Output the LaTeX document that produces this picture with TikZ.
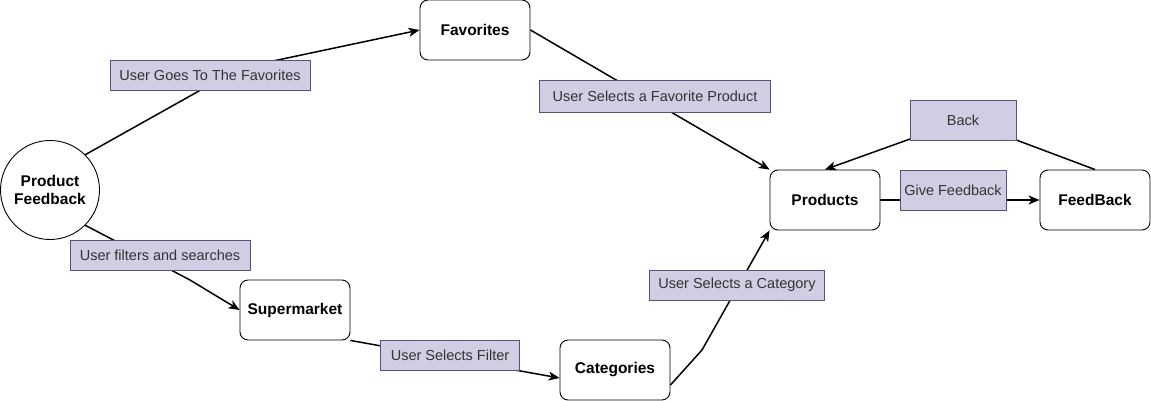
\documentclass[tikz,border=0pt]{standalone}
\usepackage{fontspec}
\setmainfont{Liberation Sans}
\usetikzlibrary{arrows.meta}
\definecolor{lblfill}{HTML}{D0CEE2}
\definecolor{lblline}{HTML}{56517E}
\definecolor{lbltext}{HTML}{333333}
\begin{document}
\begin{tikzpicture}[x=1pt,y=-1pt,
	box/.style={draw,rounded corners=8pt,minimum width=110pt,minimum height=60pt,line width=0.9pt,font=\fontsize{15.5}{18}\selectfont\bfseries},
	lbl/.style={draw=lblline,fill=lblfill,text=lbltext,line width=0.9pt,minimum height=30pt,inner xsep=0pt,font=\fontsize{14.5}{17}\selectfont},
	flow/.style={line width=1.5pt,-{Stealth[length=11pt,width=9pt,inset=3pt]}}]
			\useasboundingbox (0,0) rectangle (1151,401);
			\node[circle,draw,line width=0.9pt,minimum size=99pt,align=center,font=\fontsize{15.5}{18}\selectfont\bfseries] (PF) at (50,190) {Product\\Feedback};
			\node[box] (Fav) at (475,30) {Favorites};
			\node[box] (Prod) at (825,200) {Products};
			\node[box] (FB) at (1095,200) {FeedBack};
			\node[box] (Sup) at (295,310) {Supermarket};
			\node[box] (Cat) at (615,370) {Categories};
			\coordinate (A) at (240,68);
			\coordinate (B) at (190,280);
			\coordinate (C) at (702,350);
			\coordinate (D) at (963,120);
			\draw[flow] (PF.45) -- (A) -- (Fav.west);
			\draw[flow] (PF.-45) -- (B) -- (Sup.west);
			\draw[flow] (Sup.south east) -- ([yshift=-8pt]Cat.west);
			\draw[flow] ([yshift=-15pt]Cat.east) -- (C) -- (Prod.south west);
			\draw[flow] (Fav.east) -- (Prod.north west);
			\draw[flow] (Prod.east) -- (FB.west);
			\draw[flow] (FB.north) -- (D) -- (Prod.north);
			\node[lbl,minimum width=200pt] (fav lbl) at (210,75) {User Goes To The Favorites};
			\node[lbl,minimum width=231pt,minimum height=32pt] (pick lbl) at (655,96) {User Selects a Favorite Product};
			\node[lbl,minimum width=180pt] (search lbl) at (160,255) {User filters and searches};
			\node[lbl,minimum width=139pt] (filter lbl) at (450,355) {User Selects Filter};
			\node[lbl,minimum width=175pt] (cat lbl) at (737,285) {User Selects a Category};
			\node[lbl,minimum width=106pt,minimum height=40pt] (back lbl) at (963,120) {Back};
			\node[lbl,minimum width=106pt,minimum height=40pt] (give lbl) at (953,190) {Give Feedback};
		\end{tikzpicture}
\end{document}
